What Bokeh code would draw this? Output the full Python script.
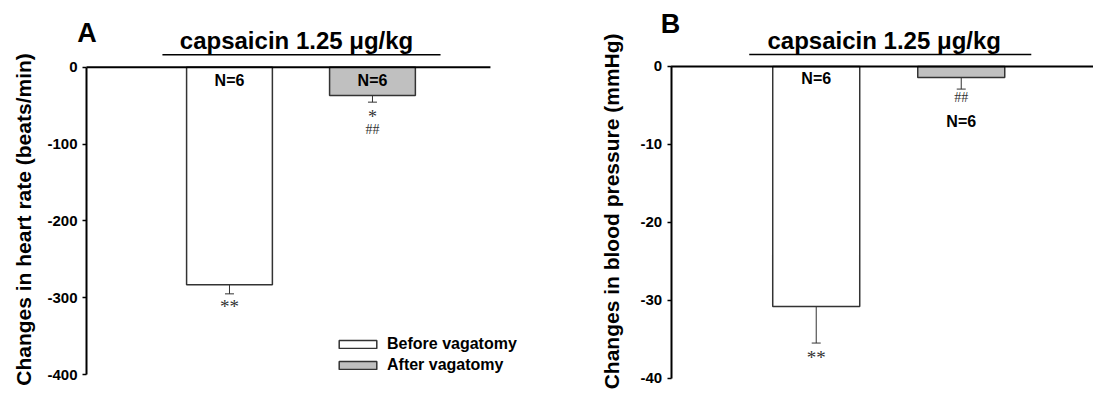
from math import pi
from bokeh.plotting import figure
from bokeh.layouts import row
from bokeh.models import (ColumnDataSource, FixedTicker, Label, Legend, LegendItem,
                          Whisker, TeeHead, Range1d)
from bokeh.embed import file_html
from bokeh.resources import INLINE

# ---------------- data ----------------
groups = ["Before vagatomy", "After vagatomy"]
group_pos = [1, 2]
fills = ["#ffffff", "#c0c0c0"]

hr_mean = [-283, -37]
hr_sem = [12, 8.5]
bp_mean = [-30.8, -1.4]
bp_sem = [4.7, 1.5]

hr_ticks = [-400, -300, -200, -100, 0]
hr_tick_labels = ["-400", "-300", "-200", "-100", "0"]
bp_ticks = [-40, -30, -20, -10, 0]
bp_tick_labels = ["-40", "-30", "-20", "-10", "0"]

n_labels = ["N=6", "N=6"]
title_text = "capsaicin 1.25 \u03bcg/kg"
hr_ylabel = "Changes in heart rate (beats/min)"
bp_ylabel = "Changes in blood pressure (mmHg)"

FONT = "Liberation Sans"
SIGFONT = "Liberation Serif"
EDGE = "#333333"
SIGCOL = "#333333"


def base_fig(width, height, xr, yr, ticks, tick_labels):
    p = figure(width=width, height=height, x_range=xr, y_range=yr,
               output_backend="svg", toolbar_location=None, x_axis_location=None,
               min_border_left=0, min_border_right=0,
               min_border_top=0, min_border_bottom=0)
    p.grid.visible = False
    p.outline_line_color = None
    ax = p.yaxis[0]
    ax.fixed_location = 0
    ax.ticker = FixedTicker(ticks=ticks)
    ax.major_label_overrides = {t: l for t, l in zip(ticks, tick_labels)}
    ax.bounds = (ticks[0], ticks[-1])
    ax.axis_line_width = 2
    ax.axis_line_color = "black"
    ax.major_tick_in = 0
    ax.major_tick_out = 4
    ax.major_tick_line_width = 1.5
    ax.minor_tick_line_color = None
    ax.major_label_standoff = 5
    ax.major_label_text_font = FONT
    ax.major_label_text_font_style = "bold"
    ax.major_label_text_font_size = "15px"
    ax.major_label_text_color = "black"
    return p


def add_bars(p, means, sems):
    src = ColumnDataSource(dict(x=group_pos, top=means,
                                low=[m - s for m, s in zip(means, sems)],
                                fill=fills, label=groups))
    r = p.vbar(x="x", top="top", bottom=0, width=0.6, fill_color="fill",
               line_color=EDGE, line_width=1.5, source=src)
    p.add_layout(Whisker(base="x", upper="top", lower="low", source=src,
                         line_color=EDGE, line_width=1,
                         upper_head=None,
                         lower_head=TeeHead(size=9, line_color=EDGE, line_width=1)))
    return r


def lab(p, x, y, text, size, font=FONT, style="bold", color="black",
        align="center", baseline="middle", angle=0):
    p.add_layout(Label(x=x, y=y, text=text, text_font=font, text_font_style=style,
                       text_font_size=size, text_color=color, text_align=align,
                       text_baseline=baseline, angle=angle))


H = 396

# ---------------- Panel A ----------------
pa = base_fig(550, H, Range1d(-0.6014, 3.245), Range1d(-428.6, 86.8),
              hr_ticks, hr_tick_labels)
ra = add_bars(pa, hr_mean, hr_sem)
pa.segment(x0=0, y0=0, x1=2.825, y1=0, line_color="black", line_width=2)
lab(pa, 0.0035, 44.5, "A", "27px")
lab(pa, 1.469, 34.8, title_text, "24px")
pa.segment(x0=0.531, y0=16.1, x1=2.476, y1=16.1, line_color="black", line_width=1.5)
lab(pa, -0.4406, -198.2, hr_ylabel, "21px", angle=pi / 2)
lab(pa, group_pos[0], -17.3, n_labels[0], "16px")
lab(pa, group_pos[1], -17.3, n_labels[1], "16px")
lab(pa, group_pos[0], -312, "**", "19px", font=SIGFONT, style="normal", color=SIGCOL)
lab(pa, group_pos[1], -64.5, "*", "18px", font=SIGFONT, style="normal", color=SIGCOL)
lab(pa, group_pos[1], -81.2, "##", "14px", font=SIGFONT, style="normal", color=SIGCOL)

legend = Legend(items=[LegendItem(label=groups[0], renderers=[ra], index=0),
                       LegendItem(label=groups[1], renderers=[ra], index=1)],
                location=(334, 21), padding=0, margin=0, spacing=0,
                glyph_width=47, glyph_height=10, label_height=21,
                label_standoff=6, border_line_color=None,
                background_fill_alpha=0,
                label_text_font=FONT, label_text_font_style="bold",
                label_text_font_size="16px", label_text_color="black")
pa.add_layout(legend)

# ---------------- Panel B ----------------
pb = base_fig(543, H, Range1d(-0.8324, 2.912), Range1d(-42.36, 8.47),
              bp_ticks, bp_tick_labels)
add_bars(pb, bp_mean, bp_sem)
pb.segment(x0=0, y0=0, x1=2.912, y1=0, line_color="black", line_width=2)
lab(pb, -0.005, 5.39, "B", "27px")
lab(pb, 1.469, 3.34, title_text, "24px")
pb.segment(x0=0.538, y0=1.54, x1=2.483, y1=1.54, line_color="black", line_width=1.5)
lab(pb, -0.412, -18.6, bp_ylabel, "21px", angle=pi / 2)
lab(pb, group_pos[0], -1.54, n_labels[0], "16px")
lab(pb, group_pos[1], -7.06, n_labels[1], "16px")
lab(pb, group_pos[1], -3.98, "##", "14px", font=SIGFONT, style="normal", color=SIGCOL)
lab(pb, group_pos[0], -37.3, "**", "19px", font=SIGFONT, style="normal", color=SIGCOL)

layout = row(pa, pb)
open("out.html", "w").write(file_html(layout, INLINE))
